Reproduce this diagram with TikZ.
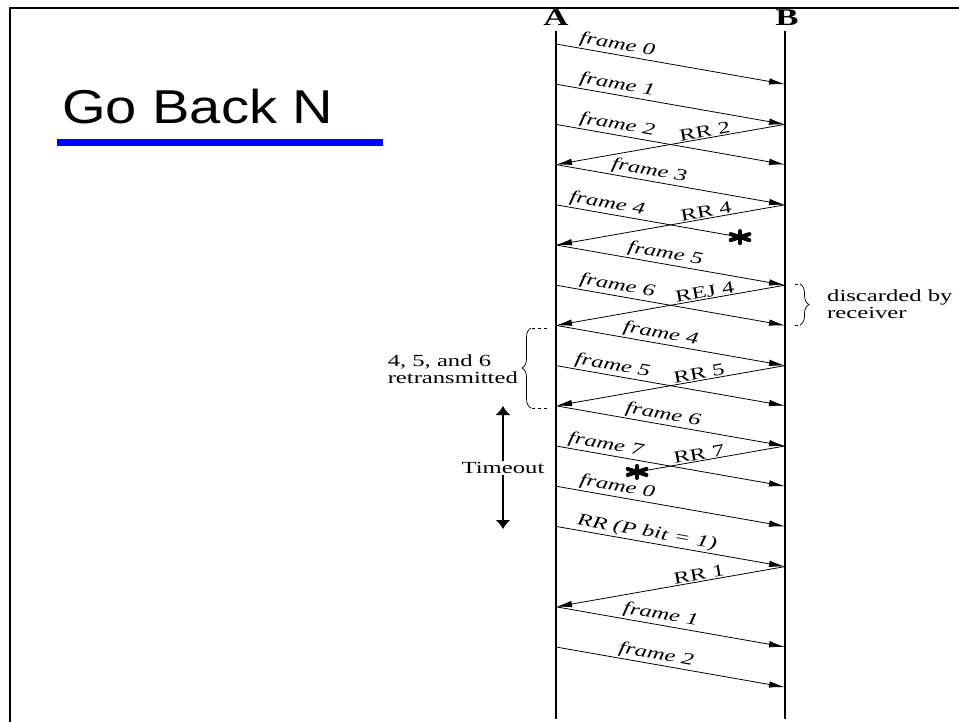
\documentclass[tikz,border=0pt]{standalone}
\usepackage{fontspec}
\usetikzlibrary{arrows.meta,decorations.pathreplacing,calc}
\newfontfamily\labfont[FakeStretch=1.45]{Liberation Serif}
\newfontfamily\titlefont[FakeStretch=1.18]{Liberation Sans}
\tikzset{
  msg/.style={line width=0.8pt, -{Latex[length=16pt,width=6.5pt]}},
  lostline/.style={line width=0.8pt},
  tline/.style={line width=1.6pt},
  flab/.style={sloped, above, inner sep=1.5pt, font=\labfont\fontsize{17}{17}\selectfont\itshape},
  alab/.style={sloped, above, inner sep=1pt, font=\labfont\fontsize{17}{17}\selectfont},
  note/.style={font=\labfont\fontsize{17}{16.5}\selectfont, align=left, inner sep=0pt},
  endlbl/.style={font=\labfont\bfseries\fontsize{24}{24}\selectfont, inner sep=0pt},
  brc/.style={decorate, decoration={brace, amplitude=9pt}, line width=0.7pt},
  bracetick/.style={dashed, line width=0.7pt},
  lostmark/.pic={\foreach \a in {30,90,150,210,270,330} \draw[line width=4pt, line cap=round] (0pt,0pt) -- (\a:6pt);}
}
\begin{document}
\begin{tikzpicture}[x=1pt,y=-1pt]
\useasboundingbox (0,0) rectangle (959,722);
\draw[line width=2.5pt] (10,722) -- (10,8) -- (959,8);

\node[anchor=base west, inner sep=0pt, font=\titlefont\fontsize{47.5}{50}\selectfont] (title) at (62,124) {Go Back N};
\fill[blue] (57,139) rectangle (383,146);

\node[endlbl] (A) at (556,18) {A};
\node[endlbl] (B) at (787,18) {B};
\coordinate (atop) at (556,31); \coordinate (abot) at (556,719);
\coordinate (btop) at (785,31); \coordinate (bbot) at (785,719);
\draw[tline] (atop) -- (abot);
\draw[tline] (btop) -- (bbot);

\foreach \k in {0,...,16} {
  \coordinate (a\k) at (556,{44+40.2*\k});
  \coordinate (b\k) at (785,{44+40.2*\k});
}
\coordinate (lost1) at ($(a4)!0.8035!(b5)$);
\coordinate (lost2) at ($(b10)!0.646!(a11)$);

\draw[msg] (a0) -- node[flab,pos=0.26]{frame 0} (b1);
\draw[msg] (a1) -- node[flab,pos=0.26]{frame 1} (b2);
\draw[msg] (a2) -- node[flab,pos=0.26]{frame 2} (b3);
\draw[msg] (b2) -- node[alab,pos=0.345]{RR 2} (a3);
\draw[msg] (a3) -- node[flab,pos=0.40]{frame 3} (b4);
\draw[lostline] (a4) -- node[flab,pos=0.27]{frame 4} (lost1);
\draw[msg] (b4) -- node[alab,pos=0.34]{RR 4} (a5);
\draw[msg] (a5) -- node[flab,pos=0.47]{frame 5} (b6);
\draw[msg] (a6) -- node[flab,pos=0.26]{frame 6} (b7);
\draw[msg] (b6) -- node[alab,pos=0.345]{REJ 4} (a7);
\draw[msg] (a7) -- node[flab,pos=0.45]{frame 4} (b8);
\draw[msg] (a8) -- node[flab,pos=0.24]{frame 5} (b9);
\draw[msg] (b8) -- node[alab,pos=0.37]{RR 5} (a9);
\draw[msg] (a9) -- node[flab,pos=0.46]{frame 6} (b10);
\draw[msg] (a10) -- node[flab,pos=0.21]{frame 7} (b11);
\draw[lostline] (b10) -- node[alab,pos=0.574]{RR 7} (lost2);
\draw[msg] (a11) -- node[flab,pos=0.26]{frame 0} (b12);
\draw[msg] (a12) -- node[flab,pos=0.39]{RR (P bit = 1)} (b13);
\draw[msg] (b13) -- node[alab,pos=0.37]{RR 1} (a14);
\draw[msg] (a14) -- node[flab,pos=0.45]{frame 1} (b15);
\draw[msg] (a15) -- node[flab,pos=0.43]{frame 2} (b16);

\pic[xscale=1.8] at (lost1) {lostmark};
\pic[xscale=1.8] at (lost2) {lostmark};

% discarded brace
\coordinate (d1) at (800,284); \coordinate (d2) at (800,325);
\draw[bracetick] (795,284) -- (d1);
\draw[bracetick] (795,325) -- (d2);
\draw[brc] (d1) -- (d2);
\node[note, anchor=west] (disc) at (827,304) {discarded by\\receiver};

% retransmitted brace
\coordinate (r1) at (531,328); \coordinate (r2) at (531,408);
\draw[bracetick] (547,328) -- (r1);
\draw[bracetick] (547,408) -- (r2);
\draw[brc] (r2) -- (r1);
\node[note, anchor=east] (retx) at (518,369) {4, 5, and 6\\retransmitted};

% timeout
\coordinate (tot) at (503,406); \coordinate (tob) at (503,529);
\draw[line width=1.4pt, {Latex[length=9pt,width=15pt]}-{Latex[length=9pt,width=15pt]}] (tot) -- (tob);
\node[note, fill=white, inner sep=1pt] (to) at (503,468) {Timeout};
\end{tikzpicture}
\end{document}
